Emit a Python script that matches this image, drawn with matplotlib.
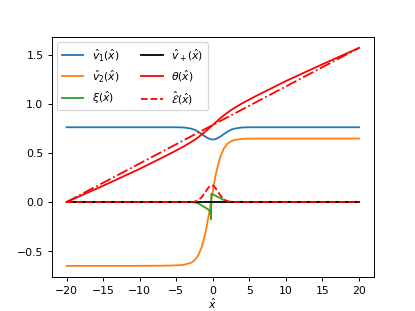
import numpy as np
import matplotlib
matplotlib.use("Agg")
from matplotlib import pyplot as plt
from matplotlib.ticker import MultipleLocator

plt.rcParams["font.size"] = 9

# sample positions
x = [-20, -17.5, -15, -12.5, -10, -7.5, -6, -5, -4, -3, -2.5, -2, -1.5, -1,
     -0.5, -0.25, 0, 0.25, 0.5, 1, 1.5, 2, 2.5, 3, 4, 5, 6, 7.5, 10, 12.5,
     15, 17.5, 20]

v1 = [0.762, 0.762, 0.762, 0.762, 0.762, 0.762, 0.762, 0.762, 0.760, 0.749,
      0.737, 0.717, 0.692, 0.665, 0.645, 0.639, 0.637, 0.639, 0.645, 0.665,
      0.692, 0.717, 0.737, 0.749, 0.760, 0.762, 0.762, 0.762, 0.762, 0.762,
      0.762, 0.762, 0.762]

v2 = [-0.65, -0.65, -0.65, -0.65, -0.65, -0.649, -0.647, -0.645, -0.640,
      -0.620, -0.594, -0.544, -0.455, -0.312, -0.112, 0.0, 0.112, 0.218,
      0.312, 0.455, 0.544, 0.594, 0.620, 0.633, 0.644, 0.646, 0.647, 0.647,
      0.647, 0.647, 0.647, 0.647, 0.647]

vplus = [0.0] * len(x)

theta = [0.0, 0.083, 0.166, 0.252, 0.338, 0.431, 0.487, 0.526, 0.566, 0.610,
         0.633, 0.660, 0.689, 0.719, 0.752, 0.769, 0.785, 0.802, 0.819,
         0.852, 0.882, 0.911, 0.938, 0.961, 1.005, 1.045, 1.084, 1.140,
         1.233, 1.319, 1.404, 1.488, 1.571]

x_xi = [-20, -3, -2.5, -2, -1.5, -1, -0.5, -0.35, -0.25, -0.2, 0, 0.5, 1,
        1.5, 2, 2.5, 20]
xi = [0.0, 0.0, -0.002, -0.012, -0.035, -0.057, -0.083, -0.098, -0.175,
      0.084, 0.078, 0.06, 0.04, 0.022, 0.008, 0.001, 0.0]

x_e = [-20, -3, -2.5, -2, -1.5, -1, -0.5, -0.25, 0, 0.25, 0.5, 1, 1.5, 2,
       2.5, 3, 20]
energy = [0.0, 0.0, 0.004, 0.018, 0.05, 0.105, 0.157, 0.169, 0.168, 0.153,
          0.128, 0.072, 0.028, 0.008, 0.002, 0.0, 0.0]

x_lin = [-20, 20]
theta_lin = [0.0, 1.571]

fig, ax = plt.subplots(figsize=(4.8, 3.6), dpi=86.5)
ax.plot(x, v1, label=r"$\hat{v}_1(\hat{x})$")
ax.plot(x, v2, label=r"$\hat{v}_2(\hat{x})$")
ax.plot(x_xi, xi, label=r"$\xi(\hat{x})$")
ax.plot(x, vplus, "k", label=r"$\hat{v}_+(\hat{x})$")
ax.plot(x, theta, "r", label=r"$\theta(\hat{x})$")
ax.plot(x_e, energy, "r--", label=r"$\hat{\mathcal{E}}(\hat{x})$")
ax.plot(x_lin, theta_lin, "r-.")
ax.xaxis.set_major_locator(MultipleLocator(5))
ax.set_xlabel(r"$\hat{x}$", labelpad=1)
ax.legend(ncol=2, loc="upper left")
plt.savefig("out.png", dpi=86.5)
